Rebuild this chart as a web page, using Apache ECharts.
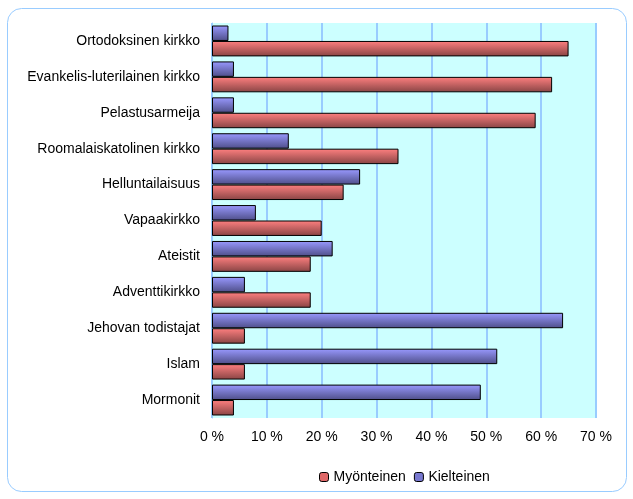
<!DOCTYPE html>
<html><head><meta charset="utf-8">
<script src="https://cdn.jsdelivr.net/npm/echarts@6/dist/echarts.min.js"></script>
<style>html,body{margin:0;padding:0;background:#fff}#c{width:633px;height:499px}</style>
</head><body><div id="c"></div>
<script>
const categories = ["Ortodoksinen kirkko","Evankelis-luterilainen kirkko","Pelastusarmeija","Roomalaiskatolinen kirkko","Helluntailaisuus","Vapaakirkko","Ateistit","Adventtikirkko","Jehovan todistajat","Islam","Mormonit"];
const myonteinen = [65,62,59,34,24,20,18,18,6,6,4];
const kielteinen = [3,4,4,14,27,8,22,6,64,52,49];
const xTicks = [0,10,20,30,40,50,60,70];

const redGrad = new echarts.graphic.LinearGradient(0,0,0,1,[{offset:0,color:'#FF8080'},{offset:1,color:'#884444'}]);
const blueGrad = new echarts.graphic.LinearGradient(0,0,0,1,[{offset:0,color:'#9999FF'},{offset:1,color:'#4E4E88'}]);
const font = 'Liberation Sans, Arial, sans-serif';
const chart = echarts.init(document.getElementById('c'));
chart.setOption({
  animation:false,
  backgroundColor:'#fff',
  graphic:[{type:'rect',shape:{x:7.5,y:8.5,width:619,height:483,r:14},style:{fill:'none',stroke:'#99CCFF',lineWidth:1}}],
  grid:{left:212,top:23,width:384,height:395,backgroundColor:'#CCFFFF',show:true,borderWidth:0},
  legend:{top:465,left:314,itemWidth:9,itemHeight:9,itemGap:8,
    textStyle:{fontFamily:font,fontSize:14,color:'#000'},
    data:[{name:'Myönteinen',itemStyle:{color:'#E06868',borderColor:'#000',borderWidth:1}},{name:'Kielteinen',itemStyle:{color:'#7878D0',borderColor:'#000',borderWidth:1}}]},
  xAxis:{type:'value',min:0,max:70,interval:10,
    axisLine:{show:false},axisTick:{show:false},
    splitLine:{show:true,lineStyle:{color:'#99CCFF',width:2}},
    axisLabel:{margin:12,fontFamily:font,fontSize:14,color:'#000',formatter:v=>v+' %'}},
  yAxis:{type:'category',data:categories,inverse:true,
    axisLine:{show:true,lineStyle:{color:'#99CCFF',width:1}},axisTick:{show:false},
    axisLabel:{margin:12,fontFamily:font,fontSize:14,color:'#000'}},
  series:[
    {name:'Kielteinen',type:'bar',data:kielteinen,barGap:'0%',barCategoryGap:'14%',
      itemStyle:{color:blueGrad,borderColor:'#000',borderWidth:1}},
    {name:'Myönteinen',type:'bar',data:myonteinen,barGap:'0%',barCategoryGap:'14%',
      itemStyle:{color:redGrad,borderColor:'#000',borderWidth:1}}
  ]
});
</script></body></html>
